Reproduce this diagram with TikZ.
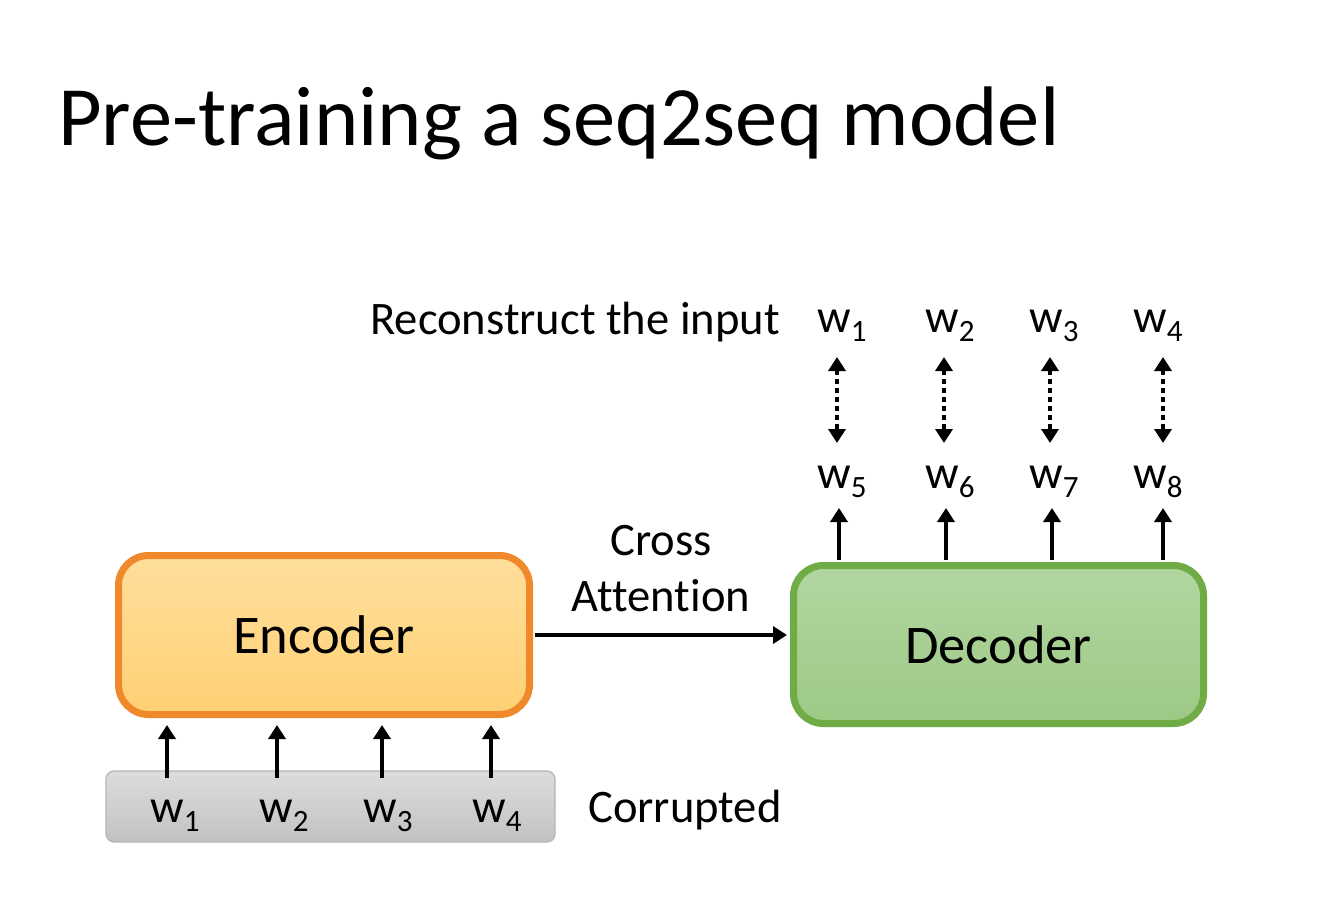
\documentclass[tikz,border=0pt]{standalone}
\usepackage{fontspec}
\setmainfont{Carlito}[Ligatures=NoCommon]
\usetikzlibrary{arrows.meta}
\definecolor{encborder}{HTML}{F0892C}
\definecolor{enctop}{HTML}{FFDF9C}
\definecolor{encbot}{HTML}{FFD074}
\definecolor{decborder}{HTML}{6FAC46}
\definecolor{dectop}{HTML}{B2D6A0}
\definecolor{decbot}{HTML}{9DC985}
\definecolor{graytop}{HTML}{DCDCDC}
\definecolor{graybot}{HTML}{C2C2C2}
\definecolor{grayborder}{HTML}{B5B5B5}
\newcommand{\wlab}[1]{w\raisebox{-9pt}{\fontsize{31}{31}\selectfont #1}}
\tikzset{
  txt/.style={inner sep=0pt, font=\fontsize{46.6}{56}\selectfont},
  wnode/.style={inner sep=0pt, anchor=base, font=\fontsize{47}{47}\selectfont},
  solidarrow/.style={line width=4.8pt, -{Triangle[length=14pt,width=17pt]}},
  dotarrow/.style={line width=4.8pt, dash pattern=on 4.5pt off 4.5pt, {Triangle[length=14pt,width=17pt]}-{Triangle[length=14pt,width=17pt]}},
  block/.style={rounded corners=30pt, line width=7pt, inner sep=0pt, font=\fontsize{54.5}{54.5}\selectfont}
}
\begin{document}
\begin{tikzpicture}[x=1pt,y=-1pt]
\useasboundingbox[fill=white] (0,0) rectangle (1330,905);
\node[anchor=base west, inner sep=0pt, font=\fontsize{84.5}{84.5}\selectfont] (title) at (58,145) {Pre-training a seq2seq model};

% encoder and corrupted input
\node[block, draw=encborder, top color=enctop, bottom color=encbot, minimum width=411pt, minimum height=159pt] (enc) at (324,635) {Encoder};
\node[rounded corners=8pt, line width=1.2pt, draw=grayborder, top color=graytop, bottom color=graybot, minimum width=449pt, minimum height=71pt] (corr) at (330.5,806.5) {};
\foreach \i/\x/\lx in {1/167/175, 2/277/284, 3/382/388, 4/491/497}{
  \node[wnode] (e\i) at (\lx,822) {\wlab{\i}};
  \coordinate (es\i) at (\x,778);
  \coordinate (ee\i) at (\x,725);
  \draw[solidarrow] (es\i) -- (ee\i);
}
\node[txt, anchor=base west] (corrtxt) at (588,822) {Corrupted};

% decoder
\node[block, draw=decborder, top color=dectop, bottom color=decbot, minimum width=410pt, minimum height=158pt] (dec) at (998.5,644.5) {Decoder};

% cross attention
\coordinate (cas) at (535,635);
\coordinate (cae) at (787,635);
\draw[solidarrow] (cas) -- (cae);
\node[txt, anchor=base] (ca1) at (661,555) {Cross};
\node[txt, anchor=base] (ca2) at (661,611) {Attention};

% decoder outputs
\foreach \i/\x/\lx/\o in {5/839/842/1, 6/946/950/2, 7/1052/1054/3, 8/1163/1158/4}{
  \coordinate (ds\i) at (\x,560);
  \coordinate (de\i) at (\x,508);
  \draw[solidarrow] (ds\i) -- (de\i);
  \node[wnode] (w\i) at (\lx,488) {\wlab{\i}};
  \node[wnode] (t\o) at (\lx,332) {\wlab{\o}};
}
\foreach \x/\i in {837/1, 944/2, 1050/3, 1163/4}{
  \coordinate (da\i) at (\x,357);
  \coordinate (db\i) at (\x,443);
  \draw[dotarrow] (da\i) -- (db\i);
}
\node[txt, anchor=base east] (recon) at (780,334) {Reconstruct the input};
\end{tikzpicture}
\end{document}
